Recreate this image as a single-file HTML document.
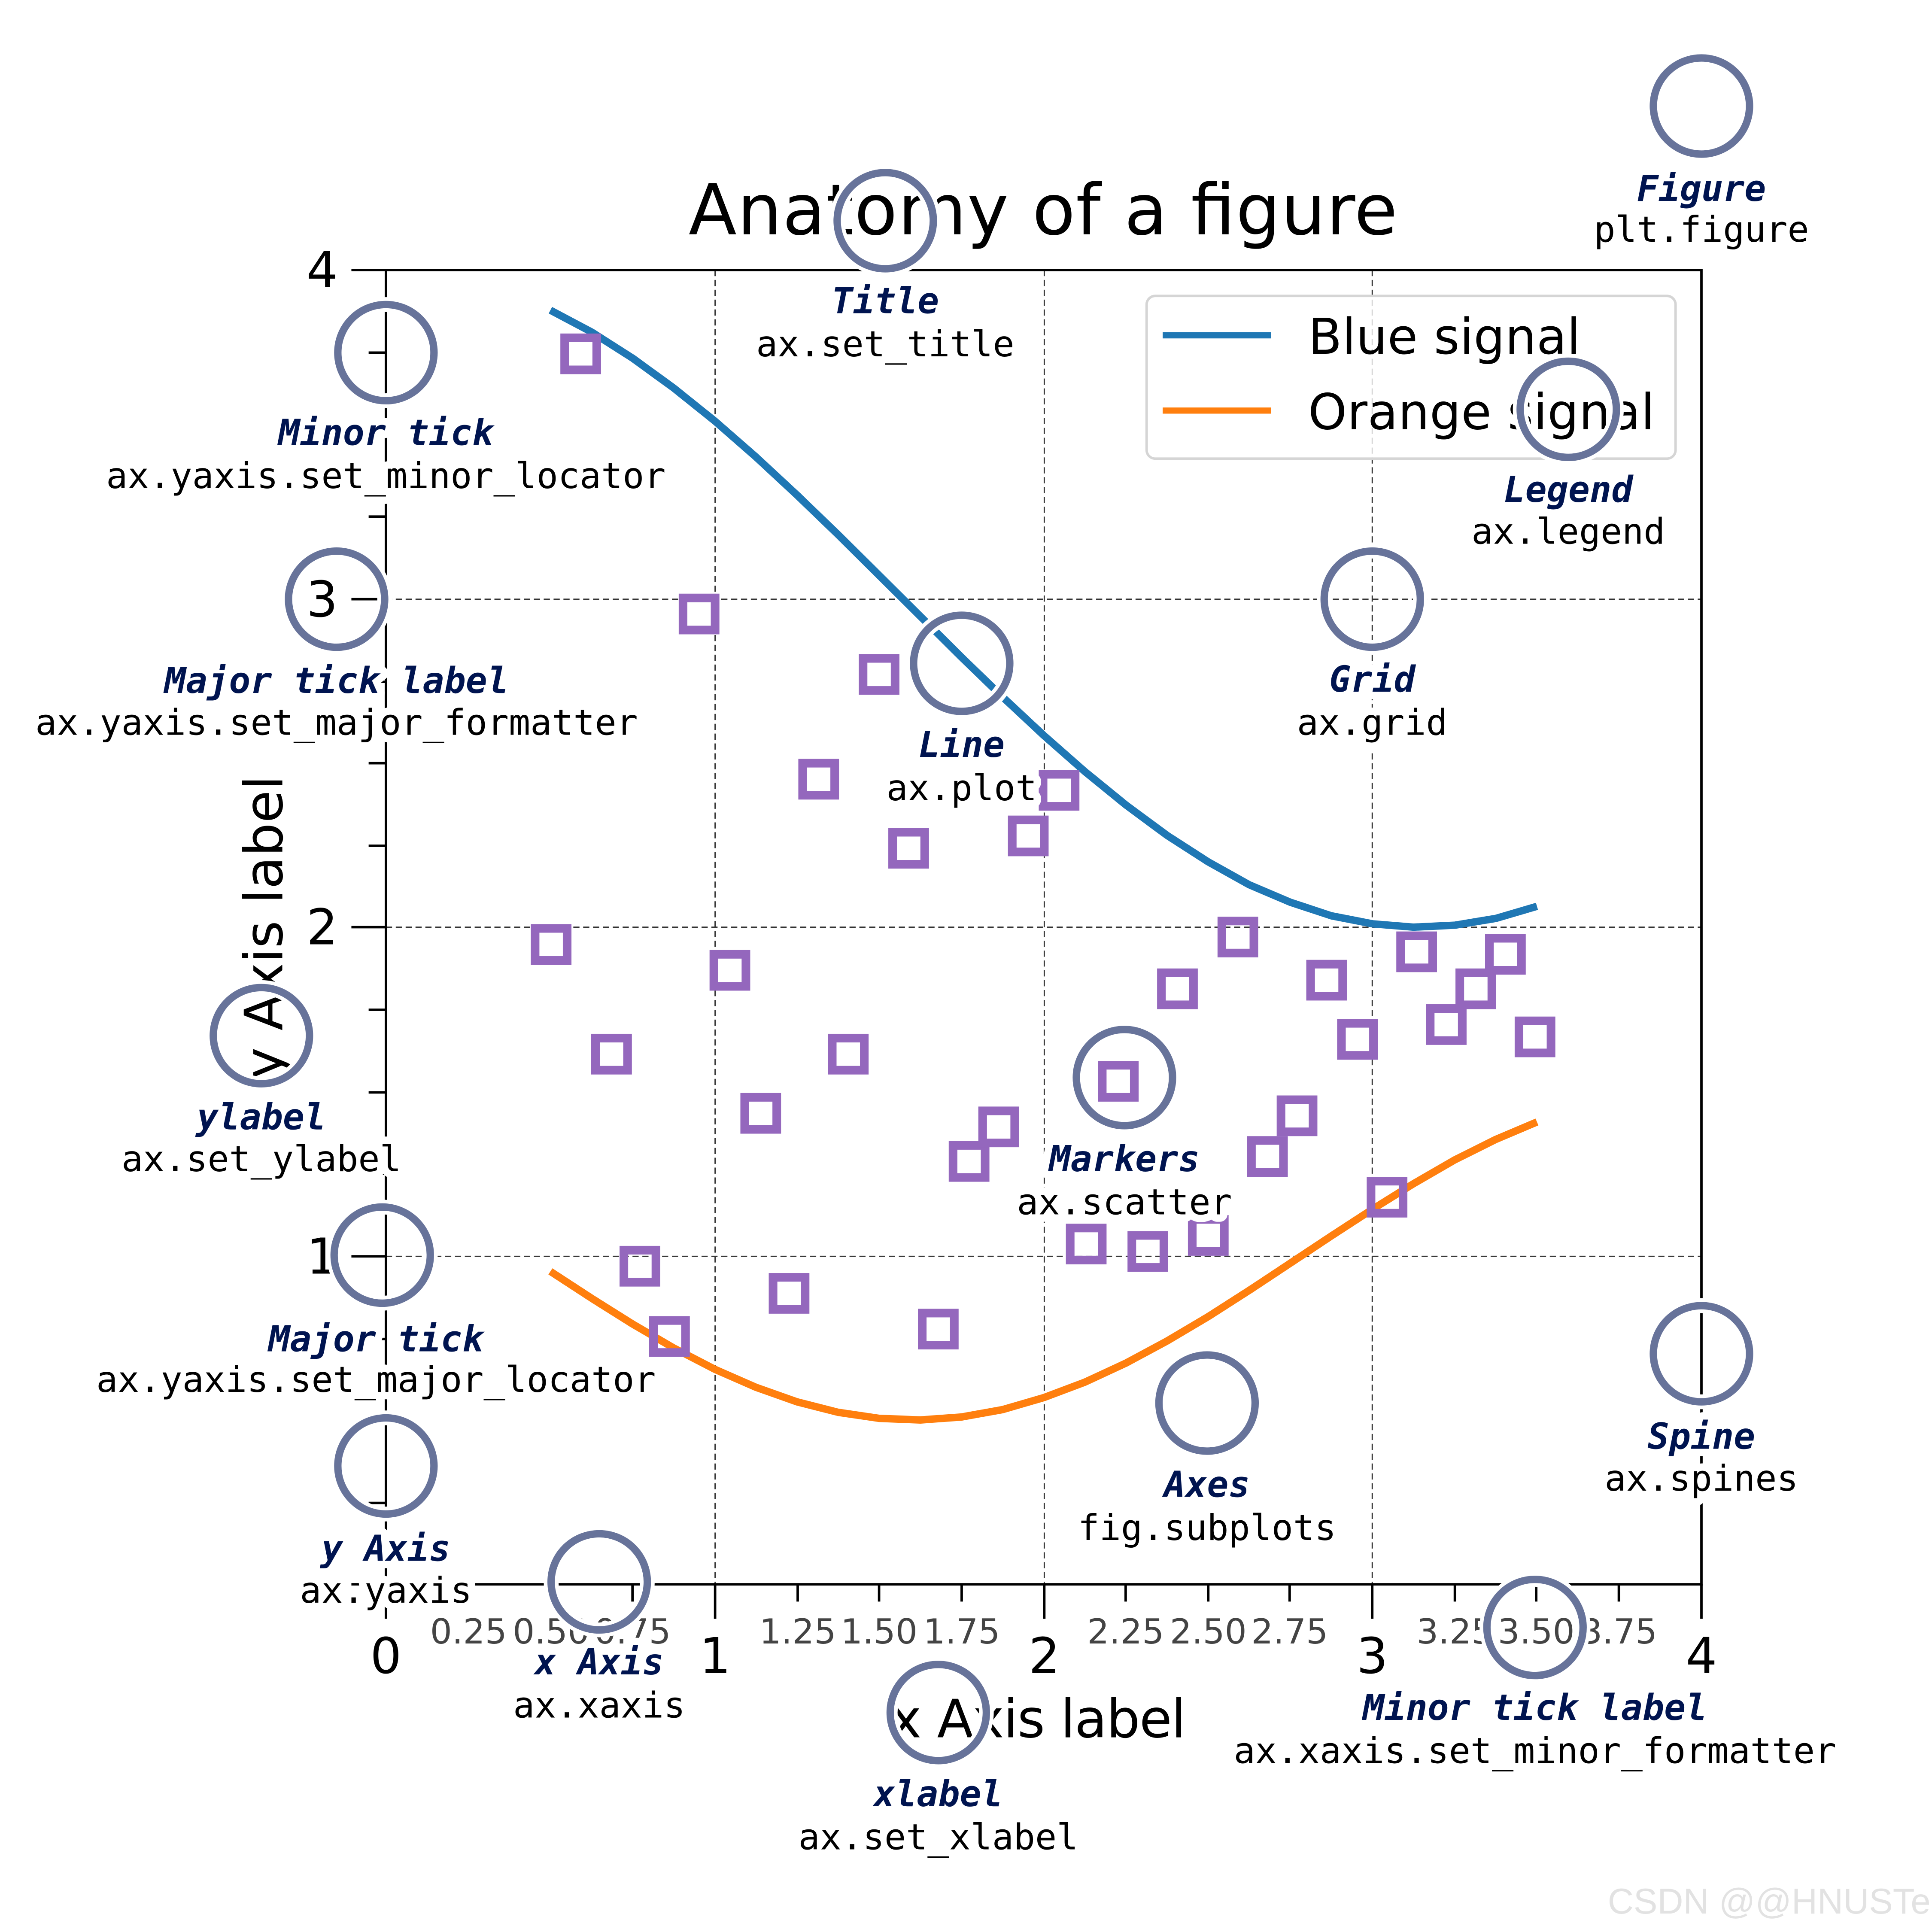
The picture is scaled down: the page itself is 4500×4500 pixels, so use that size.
<!DOCTYPE html>
<html><head><meta charset="utf-8">
<style>
html,body{margin:0;padding:0;background:#fff;}
svg{display:block;}
.lab{font-family:"DejaVu Sans Mono","Liberation Mono",monospace;font-weight:bold;font-style:italic;font-size:29px;fill:#001450;stroke:#fff;stroke-width:12;stroke-linejoin:round;paint-order:stroke;text-anchor:middle;}
.code{font-family:"DejaVu Sans Mono","Liberation Mono",monospace;font-size:29px;fill:#000;stroke:#fff;stroke-width:12;stroke-linejoin:round;paint-order:stroke;text-anchor:middle;}
.tk{font-family:"DejaVu Sans","Liberation Sans",sans-serif;font-size:40px;fill:#000;}
.mtk{font-family:"DejaVu Sans","Liberation Sans",sans-serif;font-size:28px;fill:#444;text-anchor:middle;}
</style></head>
<body>
<svg width="4500" height="4500" viewBox="0 0 1567 1567" xmlns="http://www.w3.org/2000/svg">
<rect width="1567" height="1567" fill="#fff"/>
<g stroke="#333" stroke-width="1" stroke-dasharray="5,3" fill="none">
<line x1="580" y1="219" x2="580" y2="1285"/>
<line x1="847" y1="219" x2="847" y2="1285"/>
<line x1="1113" y1="219" x2="1113" y2="1285"/>
<line x1="313" y1="486" x2="1380" y2="486"/>
<line x1="313" y1="752" x2="1380" y2="752"/>
<line x1="313" y1="1019" x2="1380" y2="1019"/>
</g>
<polyline fill="none" stroke="#1f77b4" stroke-width="6" stroke-linejoin="round" points="446.4,251.6 480,269.4 513.1,290.5 546.4,314.7 579.8,341.5 613.1,370.6 646.4,401.5 679.8,433.7 713.1,466.7 746.5,499.9 779.8,533 813.2,565.3 846.5,596.4 879.8,625.7 913.2,652.9 946.5,677.5 979.9,699 1013.2,717.6 1046.6,731.8 1079.9,742.8 1113.3,749.3 1146.6,752 1180,750.4 1213.3,744.9 1246.6,735.1"/>
<polyline fill="none" stroke="#ff7f0e" stroke-width="6" stroke-linejoin="round" points="446.4,1031.2 480,1053.1 513.1,1073.9 546.4,1093.3 579.8,1110.6 613.1,1125.2 646.4,1137 679.8,1145.5 713.1,1150.4 746.5,1151.7 779.8,1149.3 813.2,1143.3 846.5,1133.6 879.8,1121.1 913.2,1105.6 946.5,1087.7 979.9,1067.9 1013.2,1046.6 1046.6,1024.5 1079.9,1002.4 1113.3,980.7 1146.6,960 1180,940.7 1213.3,924.1 1246.6,910"/>
<g fill="none" stroke="#9467bd" stroke-width="7">
<rect x="458" y="274" width="26" height="26"/><rect x="554" y="485" width="26" height="26"/><rect x="700" y="534" width="26" height="26"/><rect x="651" y="619" width="26" height="26"/><rect x="724" y="675" width="26" height="26"/><rect x="821" y="665" width="26" height="26"/><rect x="846" y="628" width="26" height="26"/><rect x="434" y="753" width="26" height="26"/><rect x="579" y="774" width="26" height="26"/><rect x="483" y="842" width="26" height="26"/><rect x="675" y="842" width="26" height="26"/><rect x="604" y="890" width="26" height="26"/><rect x="773" y="929" width="26" height="26"/><rect x="797" y="901" width="26" height="26"/><rect x="894" y="864" width="26" height="26"/><rect x="991" y="747" width="26" height="26"/><rect x="942" y="789" width="26" height="26"/><rect x="1063" y="782" width="26" height="26"/><rect x="1088" y="830" width="26" height="26"/><rect x="1136" y="759" width="26" height="26"/><rect x="1160" y="818" width="26" height="26"/><rect x="1184" y="789" width="26" height="26"/><rect x="1208" y="761" width="26" height="26"/><rect x="1232" y="828" width="26" height="26"/><rect x="1015" y="925" width="26" height="26"/><rect x="1039" y="892" width="26" height="26"/><rect x="1112" y="958" width="26" height="26"/><rect x="868" y="996" width="26" height="26"/><rect x="918" y="1002" width="26" height="26"/><rect x="967" y="989" width="26" height="26"/><rect x="506" y="1014" width="26" height="26"/><rect x="530" y="1071" width="26" height="26"/><rect x="627" y="1036" width="26" height="26"/><rect x="748" y="1065" width="26" height="26"/>
</g>
<rect x="313" y="219" width="1067" height="1066" fill="none" stroke="#000" stroke-width="2"/>
<g stroke="#000" stroke-width="2">
<line x1="285" y1="219" x2="313" y2="219"/><line x1="285" y1="486" x2="313" y2="486"/><line x1="285" y1="752" x2="313" y2="752"/><line x1="285" y1="1019" x2="313" y2="1019"/><line x1="285" y1="1285" x2="313" y2="1285"/>
<line x1="299" y1="286" x2="313" y2="286"/><line x1="299" y1="353" x2="313" y2="353"/><line x1="299" y1="419" x2="313" y2="419"/><line x1="299" y1="553" x2="313" y2="553"/><line x1="299" y1="619" x2="313" y2="619"/><line x1="299" y1="686" x2="313" y2="686"/><line x1="299" y1="819" x2="313" y2="819"/><line x1="299" y1="886" x2="313" y2="886"/><line x1="299" y1="952" x2="313" y2="952"/><line x1="299" y1="1086" x2="313" y2="1086"/><line x1="299" y1="1152" x2="313" y2="1152"/><line x1="299" y1="1219" x2="313" y2="1219"/>
<line x1="313" y1="1285" x2="313" y2="1313"/><line x1="580" y1="1285" x2="580" y2="1313"/><line x1="847" y1="1285" x2="847" y2="1313"/><line x1="1113" y1="1285" x2="1113" y2="1313"/><line x1="1380" y1="1285" x2="1380" y2="1313"/>
<line x1="380" y1="1285" x2="380" y2="1299"/><line x1="447" y1="1285" x2="447" y2="1299"/><line x1="513" y1="1285" x2="513" y2="1299"/><line x1="647" y1="1285" x2="647" y2="1299"/><line x1="713" y1="1285" x2="713" y2="1299"/><line x1="780" y1="1285" x2="780" y2="1299"/><line x1="913" y1="1285" x2="913" y2="1299"/><line x1="980" y1="1285" x2="980" y2="1299"/><line x1="1046" y1="1285" x2="1046" y2="1299"/><line x1="1180" y1="1285" x2="1180" y2="1299"/><line x1="1246" y1="1285" x2="1246" y2="1299"/><line x1="1313" y1="1285" x2="1313" y2="1299"/>
</g>
<g class="tk" text-anchor="end">
<text x="274" y="233">4</text><text x="274" y="500">3</text><text x="274" y="766">2</text><text x="274" y="1033">1</text>
</g>
<g class="tk" text-anchor="middle">
<text x="313" y="1357">0</text><text x="580" y="1357">1</text><text x="847" y="1357">2</text><text x="1113" y="1357">3</text><text x="1380" y="1357">4</text>
</g>
<g class="mtk">
<text x="380" y="1333">0.25</text><text x="447" y="1333">0.50</text><text x="513" y="1333">0.75</text><text x="647" y="1333">1.25</text><text x="713" y="1333">1.50</text><text x="780" y="1333">1.75</text><text x="913" y="1333">2.25</text><text x="980" y="1333">2.50</text><text x="1046" y="1333">2.75</text><text x="1180" y="1333">3.25</text><text x="1246" y="1333">3.50</text><text x="1313" y="1333">3.75</text>
</g>
<text x="842" y="1409" font-family="DejaVu Sans, Liberation Sans, sans-serif" font-size="43" text-anchor="middle" textLength="240">x Axis label</text>
<text transform="translate(229,752) rotate(-90)" font-family="DejaVu Sans, Liberation Sans, sans-serif" font-size="43" text-anchor="middle">y Axis label</text>
<text x="846" y="190" font-family="DejaVu Sans, Liberation Sans, sans-serif" font-size="57" text-anchor="middle" textLength="575">Anatomy of a figure</text>
<rect x="930" y="240" width="429" height="132" rx="7" fill="#fff" fill-opacity="0.8" stroke="#d5d5d5" stroke-width="2"/>
<line x1="943" y1="272" x2="1031" y2="272" stroke="#1f77b4" stroke-width="5"/>
<line x1="943" y1="333" x2="1031" y2="333" stroke="#ff7f0e" stroke-width="5"/>
<text x="1061" y="287" font-family="DejaVu Sans, Liberation Sans, sans-serif" font-size="40" textLength="221">Blue signal</text>
<text x="1061" y="348" font-family="DejaVu Sans, Liberation Sans, sans-serif" font-size="40" textLength="281">Orange signal</text>
<g fill="none">
<g stroke="#fff" stroke-width="12">
<circle cx="1380" cy="86" r="39"/><circle cx="718" cy="179" r="39"/><circle cx="313" cy="286" r="39"/><circle cx="273" cy="486" r="39"/><circle cx="780" cy="538" r="39"/><circle cx="1113" cy="486" r="39"/><circle cx="1272" cy="332" r="39"/><circle cx="212" cy="840" r="39"/><circle cx="912" cy="874" r="39"/><circle cx="310" cy="1018" r="39"/><circle cx="979" cy="1138" r="39"/><circle cx="1380" cy="1098" r="39"/><circle cx="313" cy="1189" r="39"/><circle cx="486" cy="1283" r="39"/><circle cx="761" cy="1389" r="39"/><circle cx="1245" cy="1320" r="39"/>
</g>
<g stroke="#67739a" stroke-width="6">
<circle cx="1380" cy="86" r="39"/><circle cx="718" cy="179" r="39"/><circle cx="313" cy="286" r="39"/><circle cx="273" cy="486" r="39"/><circle cx="780" cy="538" r="39"/><circle cx="1113" cy="486" r="39"/><circle cx="1272" cy="332" r="39"/><circle cx="212" cy="840" r="39"/><circle cx="912" cy="874" r="39"/><circle cx="310" cy="1018" r="39"/><circle cx="979" cy="1138" r="39"/><circle cx="1380" cy="1098" r="39"/><circle cx="313" cy="1189" r="39"/><circle cx="486" cy="1283" r="39"/><circle cx="761" cy="1389" r="39"/><circle cx="1245" cy="1320" r="39"/>
</g>
</g>
<text class="lab" x="1380" y="163">Figure</text><text class="code" x="1380" y="196">plt.figure</text>
<text class="lab" x="718" y="254">Title</text><text class="code" x="718" y="289">ax.set_title</text>
<text class="lab" x="313" y="361">Minor tick</text><text class="code" x="313" y="396">ax.yaxis.set_minor_locator</text>
<text class="lab" x="273" y="562">Major tick label</text><text class="code" x="273" y="596">ax.yaxis.set_major_formatter</text>
<text class="lab" x="780" y="614">Line</text><text class="code" x="780" y="649">ax.plot</text>
<text class="lab" x="1113" y="561">Grid</text><text class="code" x="1113" y="596">ax.grid</text>
<text class="lab" x="1272" y="407">Legend</text><text class="code" x="1272" y="441">ax.legend</text>
<text class="lab" x="212" y="916">ylabel</text><text class="code" x="212" y="950">ax.set_ylabel</text>
<text class="lab" x="912" y="950">Markers</text><text class="code" x="912" y="985">ax.scatter</text>
<text class="lab" x="305" y="1096">Major tick</text><text class="code" x="305" y="1129">ax.yaxis.set_major_locator</text>
<text class="lab" x="979" y="1214">Axes</text><text class="code" x="979" y="1249">fig.subplots</text>
<text class="lab" x="1380" y="1175">Spine</text><text class="code" x="1380" y="1209">ax.spines</text>
<text class="lab" x="313" y="1266">y Axis</text><text class="code" x="313" y="1300">ax.yaxis</text>
<text class="lab" x="486" y="1358">x Axis</text><text class="code" x="486" y="1393">ax.xaxis</text>
<text class="lab" x="761" y="1465">xlabel</text><text class="code" x="761" y="1500">ax.set_xlabel</text>
<text class="lab" x="1245" y="1395">Minor tick label</text><text class="code" x="1245" y="1430">ax.xaxis.set_minor_formatter</text>
<text x="1304" y="1552" font-family="Liberation Sans, sans-serif" font-size="29" fill="#e2e2e2">CSDN @@HNUSTer</text>
</svg>
</body></html>
